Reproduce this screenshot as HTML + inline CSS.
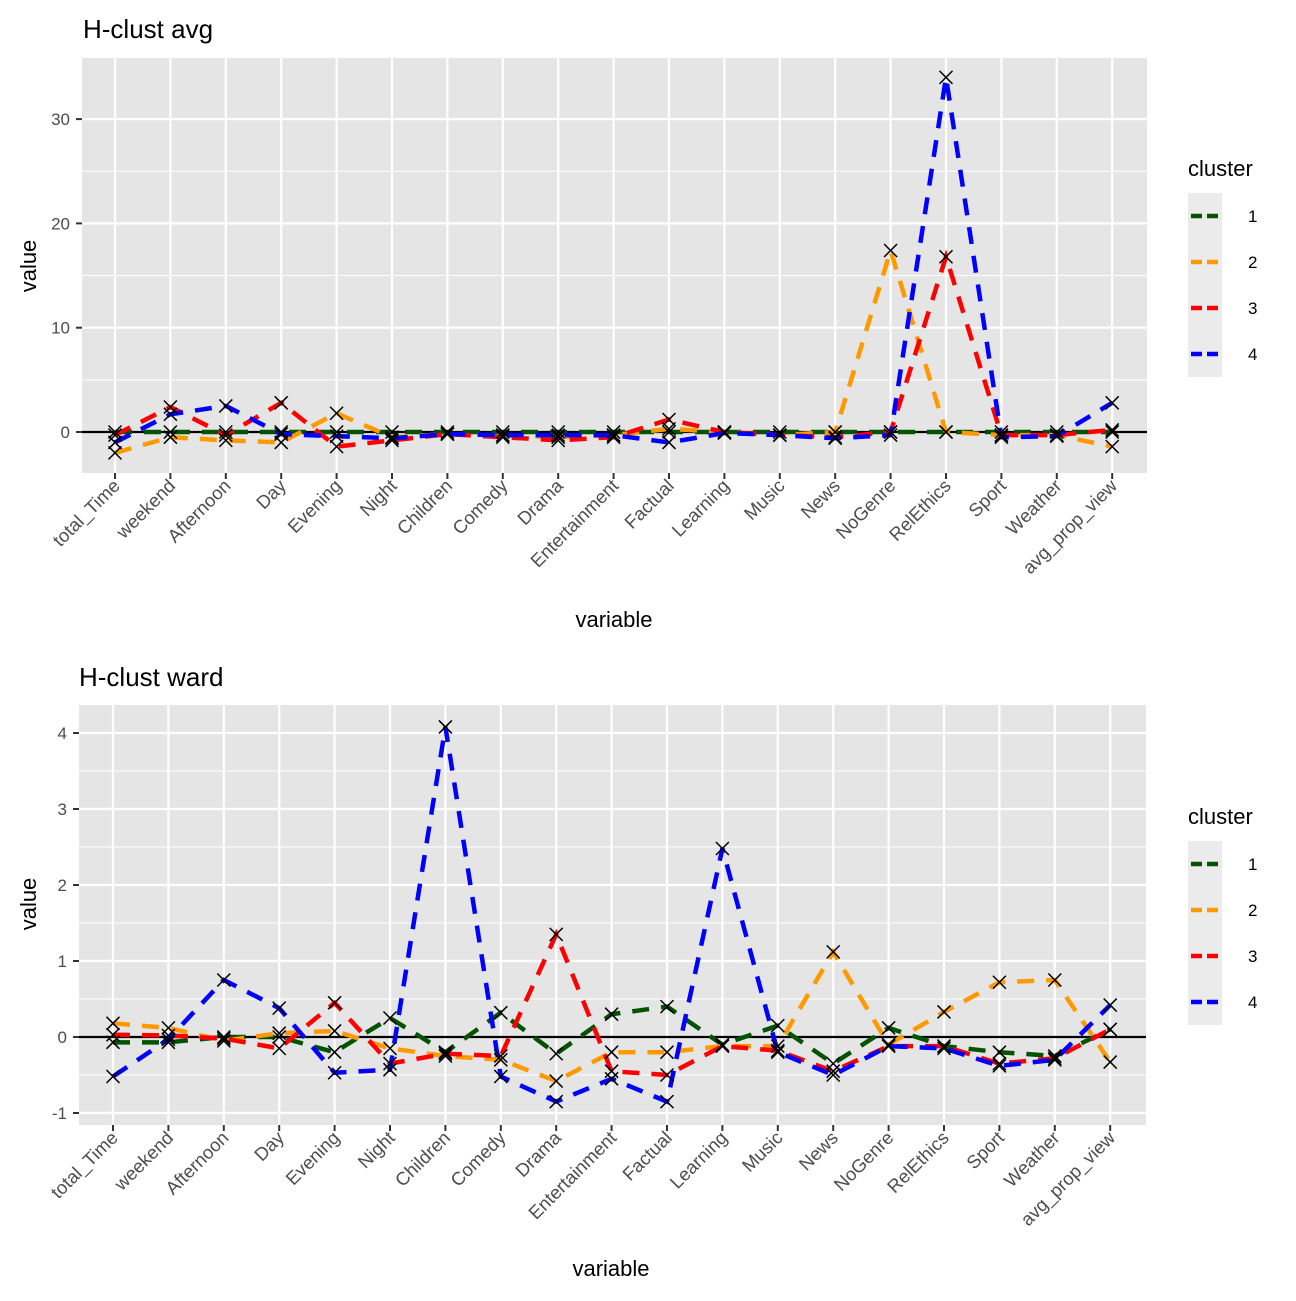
<!DOCTYPE html>
<html><head><meta charset="utf-8"><style>
body{margin:0;background:#fff}
svg text{font-family:"Liberation Sans",Arial,sans-serif}
</style></head><body>
<svg id="s" width="1296" height="1296" xmlns="http://www.w3.org/2000/svg">
<text x="83" y="38" font-size="26" fill="#000">H-clust avg</text>
<text x="79" y="686" font-size="26" fill="#000">H-clust ward</text>
<text x="614" y="627" font-size="22" text-anchor="middle">variable</text>
<text x="611" y="1276" font-size="22" text-anchor="middle">variable</text>
<text transform="translate(36,266) rotate(-90)" font-size="22" text-anchor="middle">value</text>
<text transform="translate(36,904) rotate(-90)" font-size="22" text-anchor="middle">value</text>
<text x="1188" y="176" font-size="22">cluster</text>
<text x="1188" y="824" font-size="22">cluster</text>
</svg>
<script>
var cats=["total_Time","weekend","Afternoon","Day","Evening","Night","Children","Comedy","Drama","Entertainment","Factual","Learning","Music","News","NoGenre","RelEthics","Sport","Weather","avg_prop_view"];
var cols=["#005400","#ff9900","#ff0000","#0000ff"];
var pa={x0:82,x1:1147,y0:58,y1:473,t0:115,dt:55.4,zero:432,k:10.43,ymaj:[0,10,20,30],ymin:[-5,5,15,25],
data:[
[0,0,0,0,0,0,0,0,0,0,0,0,0,0,0,0,0,0,0],
[-2,-0.5,-0.8,-1,1.8,-0.5,-0.2,-0.3,-0.5,-0.3,0.3,0,-0.3,0,17.4,0,-0.3,-0.3,-1.4],
[-0.3,2.4,-0.3,2.8,-1.4,-0.8,-0.2,-0.5,-0.8,-0.5,1.2,0,-0.3,-0.5,0,16.8,-0.3,-0.3,0.2],
[-1,1.7,2.5,-0.2,-0.4,-0.6,-0.2,-0.3,-0.3,-0.3,-1,-0.1,-0.3,-0.6,-0.3,34,-0.5,-0.4,2.8]],
leg:216};
var pb={x0:79,x1:1146,y0:705,y1:1125,t0:113,dt:55.4,zero:1037,k:76,ymaj:[-1,0,1,2,3,4],ymin:[-0.5,0.5,1.5,2.5,3.5],
data:[
[-0.07,-0.07,0,0,-0.2,0.25,-0.2,0.32,-0.22,0.3,0.4,-0.1,0.15,-0.35,0.12,-0.12,-0.2,-0.25,0.1],
[0.18,0.12,-0.05,0.05,0.08,-0.15,-0.25,-0.3,-0.58,-0.2,-0.2,-0.12,-0.12,1.12,-0.1,0.33,0.72,0.75,-0.33],
[0.03,0.02,-0.02,-0.15,0.45,-0.35,-0.22,-0.25,1.35,-0.45,-0.5,-0.12,-0.18,-0.45,-0.12,-0.12,-0.35,-0.28,0.1],
[-0.52,-0.03,0.75,0.38,-0.47,-0.43,4.08,-0.52,-0.85,-0.55,-0.85,2.48,-0.2,-0.5,-0.12,-0.15,-0.38,-0.3,0.42]],
leg:864};
var h="";
function draw(p){
 h+='<rect x="'+p.x0+'" y="'+p.y0+'" width="'+(p.x1-p.x0)+'" height="'+(p.y1-p.y0)+'" fill="#e5e5e5"/>';
 p.ymin.forEach(function(v){var y=p.zero-v*p.k;h+='<line x1="'+p.x0+'" x2="'+p.x1+'" y1="'+y+'" y2="'+y+'" stroke="#fff" stroke-width="1"/>';});
 p.ymaj.forEach(function(v){var y=p.zero-v*p.k;h+='<line x1="'+p.x0+'" x2="'+p.x1+'" y1="'+y+'" y2="'+y+'" stroke="#fff" stroke-width="2.2"/>';
  h+='<text x="'+(p.x0-12)+'" y="'+(y+6)+'" font-size="17" fill="#4d4d4d" text-anchor="end">'+v+'</text>';
  h+='<line x1="'+(p.x0-6)+'" x2="'+p.x0+'" y1="'+y+'" y2="'+y+'" stroke="#333" stroke-width="2"/>';});
 cats.forEach(function(c,i){var x=p.t0+i*p.dt;h+='<line x1="'+x+'" x2="'+x+'" y1="'+p.y0+'" y2="'+p.y1+'" stroke="#fff" stroke-width="2.2"/>';
  h+='<line x1="'+x+'" x2="'+x+'" y1="'+p.y1+'" y2="'+(p.y1+6)+'" stroke="#333" stroke-width="2"/>';
  h+='<text transform="translate('+(x+6)+','+(p.y1+14)+') rotate(-45)" font-size="18.5" fill="#4d4d4d" text-anchor="end">'+c+'</text>';});
 h+='<line x1="'+p.x0+'" x2="'+p.x1+'" y1="'+p.zero+'" y2="'+p.zero+'" stroke="#000" stroke-width="2.2"/>';
 p.data.forEach(function(d,j){var pts=d.map(function(v,i){return (p.t0+i*p.dt)+','+(p.zero-v*p.k)}).join(' ');
  h+='<polyline points="'+pts+'" fill="none" stroke="'+cols[j]+'" stroke-width="4.5" stroke-dasharray="17,12"/>';});
 p.data.forEach(function(d){d.forEach(function(v,i){var x=p.t0+i*p.dt,y=p.zero-v*p.k,r=6.5;
  h+='<path d="M'+(x-r)+','+(y-r)+'L'+(x+r)+','+(y+r)+'M'+(x-r)+','+(y+r)+'L'+(x+r)+','+(y-r)+'" stroke="#000" stroke-width="1.5"/>';});});
 for(var j=0;j<4;j++){var y=p.leg+j*46;
  h+='<rect x="1188" y="'+(y-23)+'" width="34" height="46" fill="#ebebeb"/>';
  h+='<line x1="1191" x2="1219" y1="'+y+'" y2="'+y+'" stroke="'+cols[j]+'" stroke-width="4.5" stroke-dasharray="11,5"/>';
  h+='<text x="1248" y="'+(y+6)+'" font-size="17" fill="#000">'+(j+1)+'</text>';}
}
draw(pa);draw(pb);
document.getElementById("s").insertAdjacentHTML("afterbegin",h);
</script>
</body></html>
